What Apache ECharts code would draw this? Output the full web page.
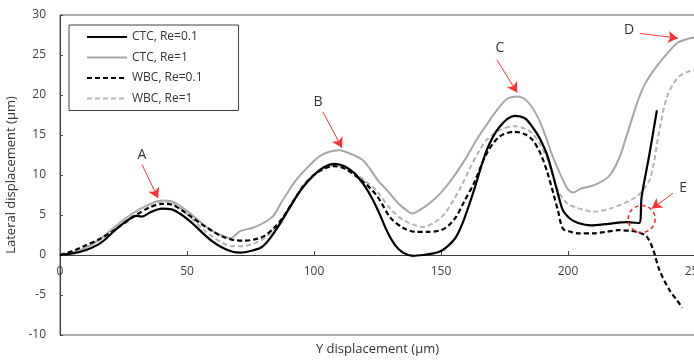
<!DOCTYPE html>
<html>
<head>
<meta charset="utf-8">
<script src="https://cdn.jsdelivr.net/npm/echarts@6/dist/echarts.min.js"></script>
<style>
  html, body { margin: 0; padding: 0; background: #fff; }
  #chart { width: 694px; height: 363px; }
</style>
</head>
<body>
<div id="chart"></div>
<script>
// [Y displacement, lateral displacement]
const ctcRe01 = [[0,0],[5,0.2],[10,0.6],[15,1.3],[18,2],[22,3.2],[26,4.2],[30,4.9],[32,4.8],[36,5.4],[40,5.8],[44,5.7],[48,5],[52,4],[56,2.8],[60,1.7],[64,0.9],[68,0.4],[71,0.3],[75,0.5],[79,0.9],[82,1.8],[86,3.6],[90,5.7],[95,8.2],[100,10],[104,11],[108,11.4],[112,11.1],[116,10.2],[120,8.6],[123,7],[126,5],[129,2.8],[132,1.2],[135,0.3],[139,-0.1],[143,0],[147,0.2],[150,0.5],[153,1.2],[156,2.3],[159,4.4],[163,8.1],[168,13.1],[173,16],[179,17.4],[183,17.1],[186,16],[189,14.5],[192,12.3],[196,7.7],[198,5.6],[201,4.5],[204,4],[209,3.7],[216,3.9],[223,4.1],[228,4.0],[229,7.3],[232,12.5],[235,18.1]]
const ctcRe1 = [[0,0],[5,0.3],[10,0.9],[15,1.8],[20,3.1],[25,4.4],[30,5.5],[35,6.3],[40,6.8],[44,6.7],[48,6],[52,5],[56,3.9],[60,3],[64,2.4],[67,2.1],[71,3.0],[76,3.4],[80,4],[84,4.9],[87,6.5],[90,8],[93,9.4],[97,10.8],[102,12.3],[106,12.9],[110,13.1],[114,12.7],[119,11.9],[122,10.8],[125,9.4],[129,8],[133,6.5],[136,5.7],[138.5,5.2],[142,5.7],[146,6.6],[150,7.8],[155,9.8],[160,12.2],[164,14.4],[168,16.3],[172,18.1],[176,19.5],[180,19.8],[184,19.2],[188,17.3],[191,15],[194,12.3],[198,9.4],[200,8.2],[202,7.8],[205,8.3],[210,8.7],[216,9.8],[220,12],[223,14.8],[227,18.8],[230,21.2],[234,23.2],[238,24.8],[243,26.5],[247,27],[250,27.2]]
const wbcRe01 = [[0,0],[5,0.5],[10,1.2],[15,1.9],[20,2.8],[25,3.9],[30,5],[35,5.9],[40,6.4],[44,6.3],[48,5.6],[52,4.7],[56,3.8],[60,3],[64,2.3],[68,1.9],[72,1.8],[76,1.9],[80,2.3],[84,3.3],[88,4.8],[92,6.8],[96,8.7],[100,10],[104,10.8],[108,11.1],[112,10.8],[116,10],[120,9],[125,7.3],[130,4.7],[135,3.4],[140,2.9],[145,2.9],[150,3.1],[153,3.7],[156,4.8],[159,6.6],[163,9],[168,12.7],[173,14.8],[179,15.4],[183,15.1],[186,14.4],[189,12.8],[192,10.2],[196,5.6],[198,3.3],[201,2.9],[204,2.7],[210,2.7],[215,2.9],[220,3.1],[225,3],[228,2.8],[231,2.3],[233.5,0.7],[236,-1.9],[240,-4.4],[243,-5.7],[245,-6.6]]
const wbcRe1 = [[0,0],[5,0.3],[10,0.9],[15,1.7],[20,3],[25,4.3],[30,5.4],[35,6.3],[40,6.7],[44,6.5],[48,5.7],[52,4.5],[56,3.3],[60,2.3],[64,1.5],[68,1.1],[72,1.1],[76,1.4],[80,2],[84,3.1],[88,4.8],[92,6.9],[96,8.8],[100,10.1],[104,10.9],[108,11.2],[112,10.9],[116,10.2],[120,9.3],[125,7.9],[130,5.8],[135,4.4],[140,3.7],[143,3.5],[147,4],[151,5],[155,6.9],[158,8.6],[161,10.6],[165,13],[168,14.4],[173,15.6],[179,16.1],[183,15.8],[186,15.2],[189,13.8],[192,11.9],[196,8.1],[199.5,6.5],[203.5,5.9],[207,5.6],[210,5.4],[216.5,5.8],[223,6.6],[227,7.3],[229.5,8.1],[232,9.3],[233.5,11],[236,15.6],[239,19.8],[243,22.1],[247,22.9],[250,23.1]]

// annotation letters and their arrows (start x, start y, tip x, tip y)
const noteLabels = [['A',32.3,12.5],['B',101.6,19.1],['C',173.2,25.9],['D',224,28.1],['E',245.3,8.4]]
const noteArrows = [[32.3,11.3,38.6,7.1],[103.5,17.9,111,13.4],[172,24.4,180,20.3],[228.3,27.7,243.3,27.1],[241.3,7.7,233,5.8]]
const circleAt = [229,4.5]

const font = '"Open Sans", "Noto Sans", sans-serif'

var myChart = echarts.init(document.getElementById('chart'))

const option = {
  animation: false,
  textStyle: { fontFamily: font },
  grid: {
    left: 60,
    right: -1,
    top: 15,
    bottom: 28,
    outerBoundsMode: 'none',
    containLabel: false,
    show: true,
    borderColor: '#595959',
    borderWidth: 1
  },
  legend: {
    orient: 'vertical',
    left: 69,
    top: 25,
    padding: [6, 36, 6, 17],
    itemWidth: 40,
    itemHeight: 14,
    itemGap: 8.5,
    borderColor: '#404040',
    borderWidth: 1,
    itemStyle: { opacity: 0 },
    textStyle: { fontSize: 12, color: '#333', fontFamily: font }
  },
  xAxis: {
    type: 'value',
    min: 0,
    max: 250,
    interval: 50,
    // axis sits on y = 0, i.e. 80 px above the bottom of the plot
    offset: -80,
    name: 'Y displacement (µm)',
    nameLocation: 'middle',
    nameGap: 88,
    nameTextStyle: { color: '#333', fontSize: 13 },
    axisLine: { show: true, onZero: false, lineStyle: { color: '#404040', width: 1 } },
    axisTick: { show: true, inside: true, length: 4, lineStyle: { color: '#404040' } },
    axisLabel: { color: '#404040', fontSize: 12, margin: 11 },
    splitLine: { show: false }
  },
  yAxis: {
    type: 'value',
    min: -10,
    max: 30,
    interval: 5,
    name: 'Lateral displacement (µm)',
    nameLocation: 'middle',
    nameGap: 34,
    nameTextStyle: { color: '#333', fontSize: 13 },
    axisLine: { show: true, lineStyle: { color: '#404040', width: 1 } },
    axisTick: { show: true, inside: true, length: 3, lineStyle: { color: '#404040' } },
    axisLabel: { color: '#404040', fontSize: 12, margin: 14 },
    splitLine: { show: false }
  },
  series: [
    {
      name: 'CTC, Re=0.1',
      type: 'line',
      symbol: 'none',
      smooth: 0.3,
      data: ctcRe01,
      lineStyle: { color: '#000', width: 2.2 },
      itemStyle: { color: '#000' },
      z: 4
    },
    {
      name: 'CTC, Re=1',
      type: 'line',
      symbol: 'none',
      smooth: 0.3,
      data: ctcRe1,
      lineStyle: { color: '#a6a6a6', width: 2 },
      itemStyle: { color: '#a6a6a6' },
      z: 2
    },
    {
      name: 'WBC, Re=0.1',
      type: 'line',
      symbol: 'none',
      smooth: 0.3,
      data: wbcRe01,
      lineStyle: { color: '#000', width: 2.2, type: [5, 3] },
      itemStyle: { color: '#000' },
      z: 3
    },
    {
      name: 'WBC, Re=1',
      type: 'line',
      symbol: 'none',
      smooth: 0.3,
      data: wbcRe1,
      lineStyle: { color: '#b3b3b3', width: 2, type: [5, 3] },
      itemStyle: { color: '#b3b3b3' },
      z: 2,
      markLine: {
        silent: true,
        symbol: ['none', 'arrow'],
        symbolSize: [9, 10],
        label: { show: false },
        lineStyle: { color: '#ff3030', width: 1, type: 'solid' },
        data: noteArrows.map(a => [{ coord: [a[0], a[1]] }, { coord: [a[2], a[3]] }])
      },
      markPoint: {
        silent: true,
        data: noteLabels.map(n => ({
          coord: [n[1], n[2]],
          symbol: 'circle',
          symbolSize: 1,
          itemStyle: { color: 'transparent' },
          label: { show: true, formatter: n[0], position: 'inside', color: '#333', fontSize: 14 }
        })).concat([{
          coord: circleAt,
          symbol: 'circle',
          symbolSize: 27,
          itemStyle: { color: 'transparent', borderColor: '#ff2020', borderWidth: 1.5, borderType: [4, 3] },
          label: { show: false }
        }])
      }
    }
  ]
}

myChart.setOption(option)
</script>
</body>
</html>
